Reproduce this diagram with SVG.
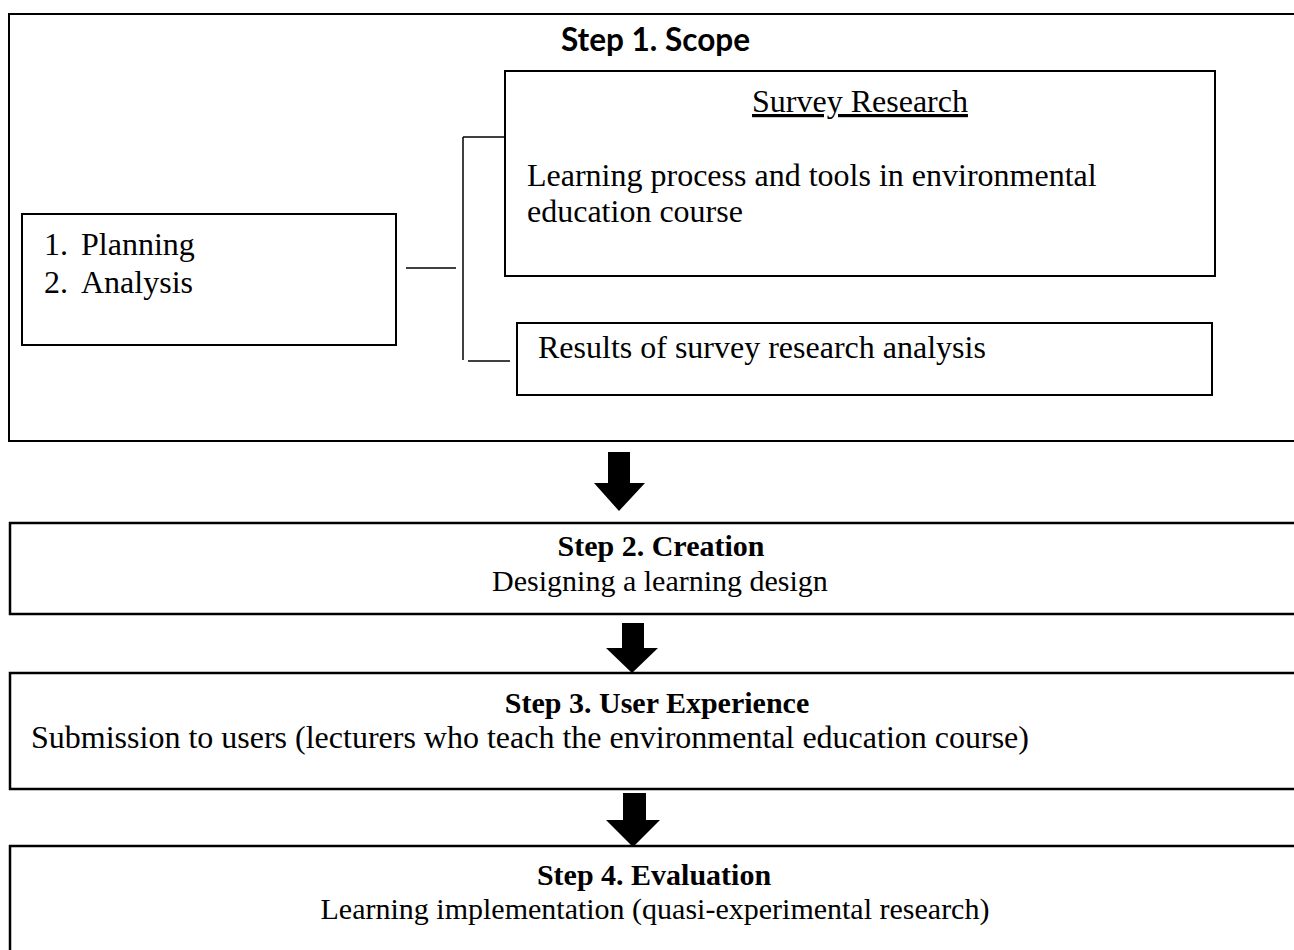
<svg xmlns="http://www.w3.org/2000/svg" width="1294" height="950" viewBox="0 0 1294 950">
  <style>
    .box { fill: #ffffff; stroke: #000000; stroke-width: 2; }
    .step { fill: #ffffff; stroke: #000000; stroke-width: 2.5; }
    .wire { fill: none; stroke: #000000; stroke-width: 1.5; }
    .txt { font-family: "Liberation Serif", "Times New Roman", serif; font-size: 32px; fill: #000000; }
    .small { font-size: 30px; }
    .bold { font-weight: bold; }
    .title1 { font-family: Lato, "Open Sans", sans-serif; font-weight: bold; font-size: 32px; fill: #000000; }
    .arrow { fill: #000000; }
  </style>
  <rect width="1294" height="950" fill="#ffffff"/>

  <!-- Step 1: scope frame -->
  <g id="step1">
    <rect class="box" x="9" y="14" width="1300" height="427"/>
    <text class="title1" x="561" y="51" textLength="189" lengthAdjust="spacingAndGlyphs">Step 1. Scope</text>
  </g>

  <g id="planning">
    <rect class="box" x="22" y="214" width="374" height="131"/>
    <text class="txt"><tspan x="44" y="255">1.</tspan><tspan x="81" y="255">Planning</tspan></text>
    <text class="txt"><tspan x="44" y="293">2.</tspan><tspan x="81" y="293">Analysis</tspan></text>
  </g>

  <g id="survey">
    <rect class="box" x="505" y="71" width="710" height="205"/>
    <text class="txt" x="860" y="112" text-anchor="middle" text-decoration="underline">Survey Research</text>
    <text class="txt" x="527" y="186">Learning process and tools in environmental</text>
    <text class="txt" x="527" y="222">education course</text>
  </g>

  <g id="results">
    <rect class="box" x="517" y="323" width="695" height="72"/>
    <text class="txt" x="538" y="358">Results of survey research analysis</text>
  </g>

  <!-- bracket joining the planning box to both outputs, then the step arrows -->
  <g id="connectors">
    <line class="wire" x1="406" y1="268" x2="456" y2="268"/>
    <line class="wire" x1="463" y1="137" x2="463" y2="360"/>
    <line class="wire" x1="463" y1="137" x2="505" y2="137"/>
    <line class="wire" x1="468" y1="361" x2="510" y2="361"/>
    <polygon class="arrow" points="608,452 630,452 630,483 645,483 619,511 594,483 608,483"/>
    <polygon class="arrow" points="622,623 644,623 644,648 658,648 632,673 606,648 622,648"/>
    <polygon class="arrow" points="623,793 646,793 646,820 660,820 633,847 606,820 623,820"/>
  </g>

  <g id="step2">
    <rect class="step" x="10" y="523" width="1300" height="91"/>
    <text class="txt small bold" x="661" y="556" text-anchor="middle">Step 2. Creation</text>
    <text class="txt small" x="660" y="591" text-anchor="middle">Designing a learning design</text>
  </g>

  <g id="step3">
    <rect class="step" x="10" y="673" width="1300" height="116"/>
    <text class="txt small bold" x="657" y="713" text-anchor="middle">Step 3. User Experience</text>
    <text class="txt" x="31" y="748">Submission to users (lecturers who teach the environmental education course)</text>
  </g>

  <g id="step4">
    <rect class="step" x="10" y="846" width="1300" height="120"/>
    <text class="txt small bold" x="654" y="885" text-anchor="middle">Step 4. Evaluation</text>
    <text class="txt small" x="655" y="919" text-anchor="middle">Learning implementation (quasi-experimental research)</text>
  </g>
</svg>
